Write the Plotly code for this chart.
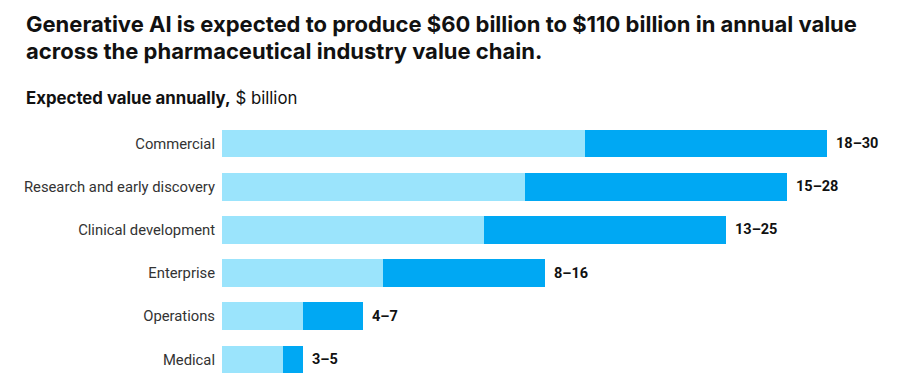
import plotly.graph_objects as go

categories = ["Commercial", "Research and early discovery", "Clinical development",
              "Enterprise", "Operations", "Medical"]
low_values = [18, 15, 13, 8, 4, 3]
high_values = [30, 28, 25, 16, 7, 4]
range_labels = ["18–30", "15–28", "13–25", "8–16", "4–7", "3–5"]

light = "#9be4fc"
dark = "#00a8f3"
font_family = "Roboto, 'Liberation Sans', Arial, sans-serif"
title_family = "Inter, Roboto, sans-serif"

W, H = 891, 373          # page body has an 8px margin
L, T = 214, 114
PW, PH = W - L, H - T
px_per_unit = 605 / 30

fig = go.Figure()
fig.add_trace(go.Bar(y=categories, x=low_values, orientation="h",
                     marker=dict(color=light, line=dict(width=0)),
                     hoverinfo="skip", showlegend=False))
fig.add_trace(go.Bar(y=categories, x=[h - l for h, l in zip(high_values, low_values)],
                     base=low_values, orientation="h",
                     marker=dict(color=dark, line=dict(width=0)),
                     hoverinfo="skip", showlegend=False))

for cat, hv, lab in zip(categories, high_values, range_labels):
    fig.add_annotation(x=hv, y=cat, text=lab, showarrow=False, xanchor="left",
                       xshift=7, font=dict(family=font_family, size=14.5, color="#111111",
                                           weight="bold"))


def ypaper(fig_y):
    return 1 + (T - fig_y) / PH


def xpaper(fig_x):
    return (fig_x - L) / PW


fig.add_annotation(xref="paper", yref="paper", x=xpaper(16), y=ypaper(1),
                   xanchor="left", yanchor="top", showarrow=False, align="left",
                   text="Generative AI is expected to produce $60 billion to $110 billion in annual value",
                   font=dict(family=title_family, size=22, color="#111111", weight=700))
fig.add_annotation(xref="paper", yref="paper", x=xpaper(16), y=ypaper(28),
                   xanchor="left", yanchor="top", showarrow=False, align="left",
                   text="across the pharmaceutical industry value chain.",
                   font=dict(family=title_family, size=22, color="#111111", weight=700))
fig.add_annotation(xref="paper", yref="paper", x=xpaper(16), y=ypaper(89.5),
                   xanchor="left", yanchor="middle", showarrow=False, align="left",
                   text="<b>Expected value annually,</b> $ billion",
                   font=dict(family=title_family, size=16.8, color="#111111"))

fig.update_layout(
    barmode="stack",
    bargap=0.36,
    width=W, height=H,
    margin=dict(l=L, r=0, t=T, b=0),
    plot_bgcolor="white", paper_bgcolor="white",
    xaxis=dict(range=[0, PW / px_per_unit], visible=False, fixedrange=True),
    yaxis=dict(autorange=False, range=[5.5, -0.5], showgrid=False, zeroline=False,
               showline=False, ticks="", ticklabelstandoff=6,
               tickfont=dict(family=font_family, size=14.8, color="#333333")),
)

fig.write_html("out.html")
